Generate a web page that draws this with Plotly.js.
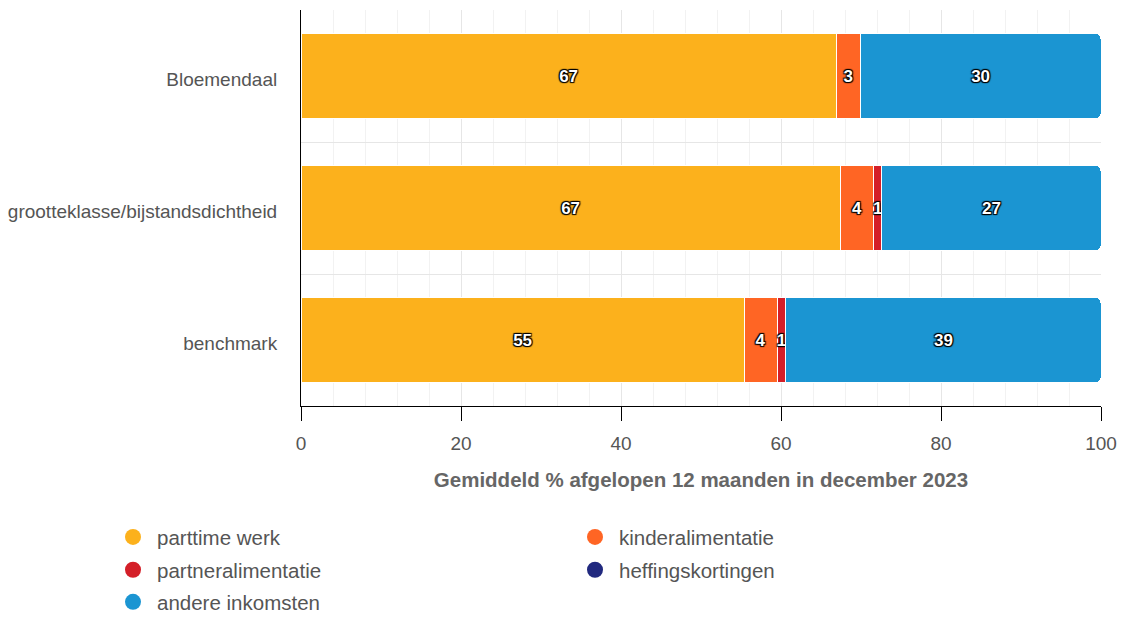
<!DOCTYPE html>
<html>
<head>
<meta charset="utf-8">
<script src="https://cdn.plot.ly/plotly-3.0.1.min.js"></script>
<style>html,body{margin:0;padding:0;background:#fff;}#chart{width:1126px;height:617px;}</style>
</head>
<body>
<div id="chart"></div>
<script>
const categories = ["Bloemendaal", "grootteklasse/bijstandsdichtheid", "benchmark"];
const seriesNames = ["parttime werk", "kinderalimentatie", "partneralimentatie", "heffingskortingen", "andere inkomsten"];
const seriesColors = ["#fcb11c", "#ff6524", "#d41f28", "#21297f", "#1b95d2"];
const parttimeWerk = [66.9, 67.4, 55.4];
const kinderalimentatie = [3.0, 4.2, 4.1];
const partneralimentatie = [0, 1.0, 1.1];
const heffingskortingen = [0, 0, 0];
const andereInkomsten = [30.1, 27.4, 39.4];
const xTickVals = [0, 20, 40, 60, 80, 100];
const xTitle = "Gemiddeld % afgelopen 12 maanden in december 2023";
// legend rows (two columns, row-wise like the reference)
const legendRowOf = ["legend", "legend", "legend2", "legend2", "legend3"];

const seriesValues = [parttimeWerk, kinderalimentatie, partneralimentatie, heffingskortingen, andereInkomsten];
const FONT = "Liberation Sans, Arial, sans-serif";
const traces = [];
seriesValues.forEach((vals, i) => {
  traces.push({
    type: "bar",
    orientation: "h",
    name: seriesNames[i],
    y: categories,
    x: vals,
    text: vals.map(v => v > 0 ? String(Math.round(v)) : ""),
    textposition: "inside",
    insidetextanchor: "middle",
    textangle: 0,
    constraintext: "none",
    cliponaxis: false,
    textfont: {family: FONT, size: 17, color: "#ffffff", weight: "bold",
      shadow: "1px 1px 1px #000, -1px -1px 1px #000, 1px -1px 1px #000, -1px 1px 1px #000"},
    marker: {color: seriesColors[i], line: {color: "#ffffff", width: 1}},
    hoverinfo: "x+name",
    showlegend: false,
    legendgroup: seriesNames[i]
  });
});
seriesNames.forEach((n, i) => {
  traces.push({
    type: "scatter", mode: "markers", name: n, x: [null], y: [null],
    marker: {symbol: "circle", size: 18, color: seriesColors[i]},
    legendgroup: n, showlegend: true, hoverinfo: "skip",
    legend: legendRowOf[i]
  });
});

function legendRow(y) {
  return {
    orientation: "h", x: -0.24, xanchor: "left", y: y, yanchor: "middle",
    entrywidth: 409, entrywidthmode: "pixels", itemwidth: 38,
    font: {family: FONT, size: 20.5, color: "#555555"},
    bgcolor: "rgba(0,0,0,0)",
    traceorder: "normal", itemclick: false, itemdoubleclick: false
  };
}

const layout = {
  width: 1126, height: 617,
  margin: {l: 301, r: 25, t: 10, b: 211, autoexpand: false},
  paper_bgcolor: "#ffffff", plot_bgcolor: "#ffffff",
  font: {family: FONT, color: "#555555"},
  barmode: "stack",
  bargap: 0.356,
  barcornerradius: 5,
  showlegend: true,
  legend: legendRow(-0.331),
  legend2: legendRow(-0.414),
  legend3: legendRow(-0.495),
  xaxis: {
    range: [0, 100], tickvals: xTickVals, ticktext: xTickVals.map(String),
    ticks: "outside", ticklen: 14, tickcolor: "#000000", tickwidth: 1,
    showline: true, linecolor: "#000000", linewidth: 1,
    showgrid: true, gridcolor: "#e6e6e6", zeroline: false,
    minor: {dtick: 4, tick0: 0, showgrid: true, gridcolor: "#f2f2f2", ticks: ""},
    ticklabelstandoff: 6,
    tickfont: {family: FONT, size: 19, color: "#555555"},
    title: {text: xTitle, font: {family: FONT, size: 20.5, color: "#666666", weight: "bold"}, standoff: 19},
    fixedrange: true
  },
  yaxis: {
    type: "category", categoryorder: "array", categoryarray: categories,
    autorange: "reversed",
    tickson: "boundaries", ticks: "", ticklen: 0,
    showline: true, linecolor: "#000000", linewidth: 1,
    showgrid: true, gridcolor: "#e6e6e6",
    ticklabelstandoff: 19,
    ticklabelshift: -3,
    tickfont: {family: FONT, size: 19, color: "#555555"},
    fixedrange: true
  }
};
Plotly.newPlot("chart", traces, layout, {displayModeBar: false, staticPlot: true});
</script>
</body>
</html>
